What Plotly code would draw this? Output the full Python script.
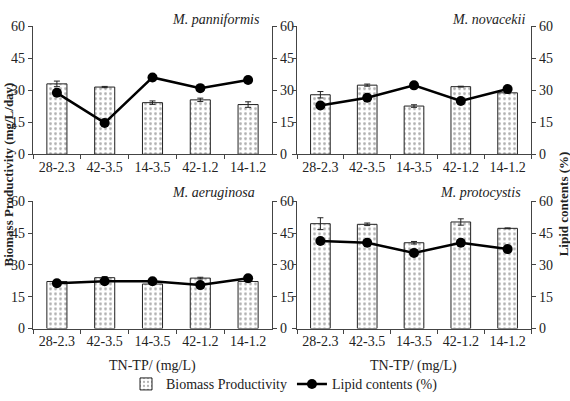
import plotly.graph_objects as go

categories = ["28-2.3", "42-3.5", "14-3.5", "42-1.2", "14-1.2"]
panels = ["M. panniformis", "M. novacekii", "M. aeruginosa", "M. protocystis"]

bio_pann = [33.0, 31.5, 24.2, 25.5, 23.3]
bio_pann_err = [1.3, 0.3, 0.8, 0.8, 1.3]
lip_pann = [28.8, 14.7, 36.0, 31.0, 34.8]

bio_nova = [27.9, 32.4, 22.6, 31.7, 28.8]
bio_nova_err = [1.5, 0.5, 0.6, 0.2, 0.2]
lip_nova = [22.9, 26.5, 32.3, 25.0, 30.6]

bio_aeru = [22.2, 24.0, 21.0, 23.8, 22.2]
bio_aeru_err = [0.2, 0.5, 0.2, 0.4, 0.2]
lip_aeru = [21.4, 22.3, 22.3, 20.5, 23.7]

bio_prot = [49.5, 49.2, 40.5, 50.3, 47.3]
bio_prot_err = [2.8, 0.6, 0.6, 1.5, 0.2]
lip_prot = [41.3, 40.5, 35.7, 40.5, 37.5]

y_ticks = [0, 15, 30, 45, 60]

W, H = 570, 401
FONT = "'Liberation Serif', 'Times New Roman', Times, serif"
AX = "#444444"
TXT = "#222222"

bios = [bio_pann, bio_nova, bio_aeru, bio_prot]
errs = [bio_pann_err, bio_nova_err, bio_aeru_err, bio_prot_err]
lips = [lip_pann, lip_nova, lip_aeru, lip_prot]

# pixel boxes of each panel plot area: (x0, x1, ytop, ybottom)
boxes = [(33, 272, 20, 153), (297, 531, 20, 153), (33, 272, 202, 334), (297, 531, 202, 334)]

fig = go.Figure()
layout = {}
for i in range(4):
    n = i + 1
    xs = "x" if n == 1 else f"x{n}"
    ys = "y" if n == 1 else f"y{n}"
    ys2 = f"y{n + 4}"
    fig.add_trace(go.Bar(
        x=categories, y=bios[i], xaxis=xs, yaxis=ys,
        width=0.42,
        marker=dict(color="white", line=dict(color="#222", width=1),
                    pattern=dict(shape=".", fgcolor="#666", bgcolor="white", size=5, solidity=0.25)),
        error_y=dict(type="data", array=errs[i], color="#222", thickness=1, width=3),
        name="Biomass Productivity", showlegend=(i == 0), legendrank=1,
    ))
    fig.add_trace(go.Scatter(
        x=categories, y=lips[i], xaxis=xs, yaxis=ys2, mode="lines+markers",
        line=dict(color="black", width=2.5), marker=dict(color="black", size=10),
        name="Lipid contents (%)", showlegend=(i == 0), legendrank=2,
    ))
    x0, x1, yt, yb = boxes[i]
    xd = [x0 / W, x1 / W]
    yd = [1 - yb / H, 1 - yt / H]
    xk = "xaxis" if n == 1 else f"xaxis{n}"
    yk = "yaxis" if n == 1 else f"yaxis{n}"
    yk2 = f"yaxis{n + 4}"
    tf = dict(family=FONT, size=14, color=TXT)
    layout[xk] = dict(domain=xd, anchor=ys, type="category", range=[-0.5, 4.5],
                      showline=True, linecolor=AX, linewidth=1.2, ticks="outside",
                      tickson="boundaries", ticklen=4, tickcolor=AX, showgrid=False,
                      tickfont=tf, zeroline=False)
    layout[yk] = dict(domain=yd, anchor=xs, range=[0, 60], tickvals=y_ticks,
                      showline=True, linecolor=AX, linewidth=1.2, ticks="outside",
                      ticklen=4, tickcolor=AX, showgrid=False, zeroline=False,
                      tickfont=tf, showticklabels=(n in (1, 3)))
    layout[yk2] = dict(domain=yd, anchor=xs, overlaying=ys, side="right", range=[0, 60],
                       tickvals=y_ticks, showline=True, linecolor=AX, linewidth=1.2,
                       ticks="outside", ticklen=4, tickcolor=AX, showgrid=False,
                       zeroline=False, tickfont=tf)

annotations = []
title_pos = [(262, 13), (527, 13), (257, 193), (523, 193)]
for i, (px, py) in enumerate(title_pos):
    annotations.append(dict(text=f"<i>{panels[i]}</i>", x=px / W, y=1 - py / H, xref="paper",
                            yref="paper", xanchor="right", yanchor="middle", showarrow=False,
                            font=dict(family=FONT, size=14, color=TXT)))
for cx in (152, 413):
    annotations.append(dict(text="TN-TP/ (mg/L)", x=cx / W, y=1 - 373 / H, xref="paper",
                            yref="paper", xanchor="center", yanchor="middle", showarrow=False,
                            font=dict(family=FONT, size=14, color=TXT)))
annotations.append(dict(text="<b>Biomass Productivity (mg/L/day)</b>", x=8 / W, y=1 - 174 / H,
                        xref="paper", yref="paper", textangle=-90, showarrow=False,
                        xanchor="center", yanchor="middle",
                        font=dict(family=FONT, size=13, color=TXT)))
annotations.append(dict(text="<b>Lipid contents (%)</b>", x=563 / W, y=1 - 205 / H,
                        xref="paper", yref="paper", textangle=-90, showarrow=False,
                        xanchor="center", yanchor="middle",
                        font=dict(family=FONT, size=13, color=TXT)))

fig.update_layout(
    width=W, height=H, margin=dict(l=0, r=0, t=0, b=0),
    paper_bgcolor="white", plot_bgcolor="white", barmode="overlay",
    showlegend=True,
    legend=dict(orientation="h", x=126 / W, y=1 - 392 / H, xanchor="left", yanchor="middle",
                font=dict(family=FONT, size=14, color=TXT), itemwidth=30,
                bgcolor="rgba(0,0,0,0)", tracegroupgap=0),
    annotations=annotations,
    **layout,
)

fig.write_html("out.html")
